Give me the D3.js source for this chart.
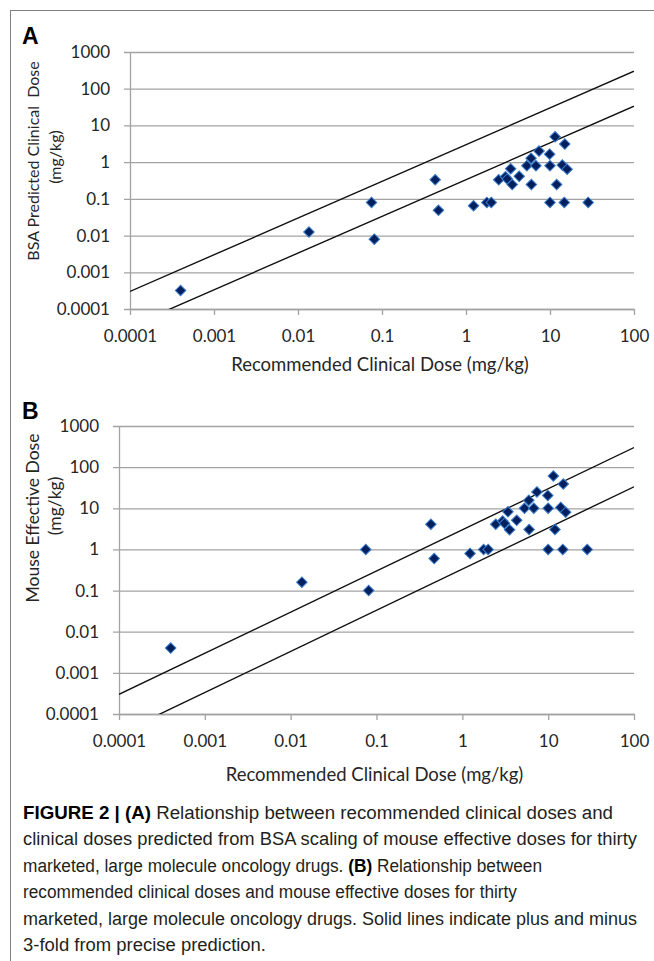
<!DOCTYPE html>
<html>
<head>
<meta charset="utf-8">
<script src="https://d3js.org/d3.v7.min.js"></script>
<style>
  body { margin: 0; background: #fff; }
  svg { display: block; }
</style>
</head>
<body>
<div id="vis"></div>
<script>
// declare constants
const FRAME_WIDTH = 654;
const FRAME_HEIGHT = 961;

// values, one entry per drug (thirty drugs)
const clinicalDose = [0.0004, 0.0135, 0.075, 0.081, 0.43, 0.47, 1.23, 1.77, 2.0, 2.45,
                      2.95, 3.1, 3.4, 3.55, 4.3, 5.3, 5.95, 6.0, 6.8, 7.4,
                      9.9, 10, 10, 11.5, 12, 14, 15, 16, 14.8, 28.5];
const bsaPredictedDose = [0.00032, 0.0125, 0.08, 0.008, 0.33, 0.049, 0.065, 0.08, 0.08, 0.33,
                          0.40, 0.35, 0.66, 0.245, 0.41, 0.8, 1.27, 0.245, 0.8, 2.0,
                          1.65, 0.8, 0.08, 4.9, 0.245, 0.83, 3.1, 0.64, 0.08, 0.08];
const mouseEffectiveDose = [0.004, 0.16, 1.0, 0.1, 4.1, 0.6, 0.8, 1.0, 1.0, 4.1,
                            4.9, 4.3, 8.2, 3.0, 5.1, 10, 15.6, 3.05, 10, 25,
                            20.5, 10, 1.0, 61, 3.05, 10.5, 39, 8.0, 1.0, 1.0];

const xTicks = [0.0001, 0.001, 0.01, 0.1, 1, 10, 100];
const xTickLabels = ["0.0001", "0.001", "0.01", "0.1", "1", "10", "100"];
const yTicks = [0.0001, 0.001, 0.01, 0.1, 1, 10, 100, 1000];
const yTickLabels = ["0.0001", "0.001", "0.01", "0.1", "1", "10", "100", "1000"];
const FOLD = 3;   // plus and minus 3-fold lines

const xTitle = "Recommended Clinical Dose (mg/kg)";
const captionLines = [
  [["FIGURE 2 | ", true], ["(A)", true], [" Relationship between recommended clinical doses and", false]],
  [["clinical doses predicted from BSA scaling of mouse effective doses for thirty", false]],
  [["marketed, large molecule oncology drugs. ", false], ["(B)", true], [" Relationship between", false]],
  [["recommended clinical doses and mouse effective doses for thirty", false]],
  [["marketed, large molecule oncology drugs. Solid lines indicate plus and minus", false]],
  [["3-fold from precise prediction.", false]]
];
// the caption font is condensed, so each line is fitted to its width in the figure
const captionWidths = [590, 614, 519, 494, 614, 243];

const GRID = "#a3a3a3";
const INK = "#262626";
const FONT = "Lato, 'Open Sans', sans-serif";

const PANEL_A = {letter: "A", left: 130, right: 634, top: 52, bottom: 309,
                 yTitle: "BSA Predicted Clinical\u00a0\u00a0Dose", yTitleSize: 16,
                 titleX: 39, unitX: 61, titleY: 161, unitY: 157, xTitleY: 371, letterY: 44,
                 values: bsaPredictedDose};
const PANEL_B = {letter: "B", left: 119, right: 634, top: 426, bottom: 714,
                 yTitle: "Mouse Effective Dose", yTitleSize: 17.5,
                 titleX: 39, unitX: 61, titleY: 518, unitY: 506, xTitleY: 781, letterY: 419,
                 values: mouseEffectiveDose};

// make the big frame
const FRAME = d3.select("#vis")
  .append("svg")
    .attr("width", FRAME_WIDTH)
    .attr("height", FRAME_HEIGHT)
    .style("font-family", FONT);

FRAME.append("line")
  .attr("x1", 10).attr("x2", FRAME_WIDTH).attr("y1", 10.5).attr("y2", 10.5)
  .attr("stroke", "#808080");
FRAME.append("line")
  .attr("x1", 10.5).attr("x2", 10.5).attr("y1", 10).attr("y2", FRAME_HEIGHT)
  .attr("stroke", "#808080");

function build_panel(cfg, id) {
  const g = FRAME.append("g");

  const x = d3.scaleLog()
    .domain([xTicks[0], xTicks[xTicks.length - 1]])
    .range([cfg.left, cfg.right]);
  const y = d3.scaleLog()
    .domain([yTicks[0], yTicks[yTicks.length - 1]])
    .range([cfg.bottom, cfg.top]);

  // Y axis with gridlines
  const yAxis = g.append("g")
    .attr("transform", "translate(" + cfg.left + ",0)")
    .call(d3.axisLeft(y)
      .tickValues(yTicks)
      .tickFormat((d, i) => yTickLabels[i])
      .tickSizeInner(-(cfg.right - cfg.left))
      .tickSizeOuter(0)
      .tickPadding(20));
  yAxis.select(".domain").attr("stroke", GRID).attr("stroke-width", 1.3);
  yAxis.selectAll(".tick line")
    .attr("x1", -6)
    .attr("stroke", GRID).attr("stroke-width", 1.3);
  yAxis.selectAll(".tick text")
    .attr("fill", INK).style("font-size", "17px").style("font-family", FONT);

  // X axis
  const xAxis = g.append("g")
    .attr("transform", "translate(0," + cfg.bottom + ")")
    .call(d3.axisBottom(x)
      .tickValues(xTicks)
      .tickFormat((d, i) => xTickLabels[i])
      .tickSizeInner(6)
      .tickSizeOuter(0)
      .tickPadding(15));
  xAxis.select(".domain").attr("stroke", GRID).attr("stroke-width", 1.3);
  xAxis.selectAll(".tick line").attr("stroke", GRID).attr("stroke-width", 1.3);
  xAxis.selectAll(".tick text")
    .attr("fill", INK).style("font-size", "17px").style("font-family", FONT);

  // plus / minus 3-fold lines, clipped to plot area
  g.append("clipPath").attr("id", "clip" + id)
    .append("rect")
      .attr("x", cfg.left).attr("y", cfg.top)
      .attr("width", cfg.right - cfg.left).attr("height", cfg.bottom - cfg.top);
  const line = d3.line().x(d => x(d[0])).y(d => y(d[1]));
  const xs = x.domain();
  [FOLD, 1 / FOLD].forEach(f => {
    g.append("path")
      .attr("clip-path", "url(#clip" + id + ")")
      .attr("d", line(xs.map(v => [v, v * f])))
      .attr("fill", "none")
      .attr("stroke", "#111")
      .attr("stroke-width", 1.4);
  });

  // points
  const diamond = d3.symbol().type(d3.symbolSquare).size(56);
  g.selectAll(".pt")
    .data(clinicalDose.map((d, i) => [d, cfg.values[i]]))
    .enter()
    .append("path")
      .attr("class", "pt")
      .attr("d", diamond)
      .attr("transform", d => "translate(" + x(d[0]) + "," + y(d[1]) + ") rotate(45)")
      .attr("fill", "#02205e")
      .attr("stroke", "#3a7ccc")
      .attr("stroke-width", 1);

  // titles
  g.append("text")
    .attr("x", (cfg.left + cfg.right) / 2 - 2)
    .attr("y", cfg.xTitleY)
    .attr("text-anchor", "middle")
    .attr("fill", INK)
    .style("font-size", "18.5px")
    .text(xTitle);

  g.append("text")
    .attr("transform", "translate(" + cfg.titleX + "," + cfg.titleY + ") rotate(-90)")
    .attr("text-anchor", "middle")
    .attr("fill", INK)
    .style("font-size", cfg.yTitleSize + "px")
    .text(cfg.yTitle);
  g.append("text")
    .attr("transform", "translate(" + cfg.unitX + "," + cfg.unitY + ") rotate(-90)")
    .attr("text-anchor", "middle")
    .attr("fill", INK)
    .style("font-size", cfg.yTitleSize + "px")
    .text("(mg/kg)");

  g.append("text")
    .attr("x", 22)
    .attr("y", cfg.letterY)
    .attr("fill", "#000")
    .style("font-family", "'Liberation Sans', Arial, sans-serif")
    .style("font-weight", "bold")
    .style("font-size", "23px")
    .text(cfg.letter);
}

build_panel(PANEL_A, "a");
build_panel(PANEL_B, "b");

// caption
const caption = FRAME.append("g")
  .style("font-family", "'Liberation Sans', Arial, sans-serif")
  .style("font-size", "18px");
captionLines.forEach((segs, i) => {
  const t = caption.append("text")
    .attr("x", 23)
    .attr("y", 819 + i * 26.4)
    .attr("textLength", captionWidths[i])
    .attr("lengthAdjust", "spacingAndGlyphs")
    .attr("fill", "#231f20");
  segs.forEach(s => {
    t.append("tspan")
      .style("font-weight", s[1] ? "bold" : "normal")
      .attr("fill", s[1] ? "#000" : "#231f20")
      .text(s[0]);
  });
});
</script>
</body>
</html>
